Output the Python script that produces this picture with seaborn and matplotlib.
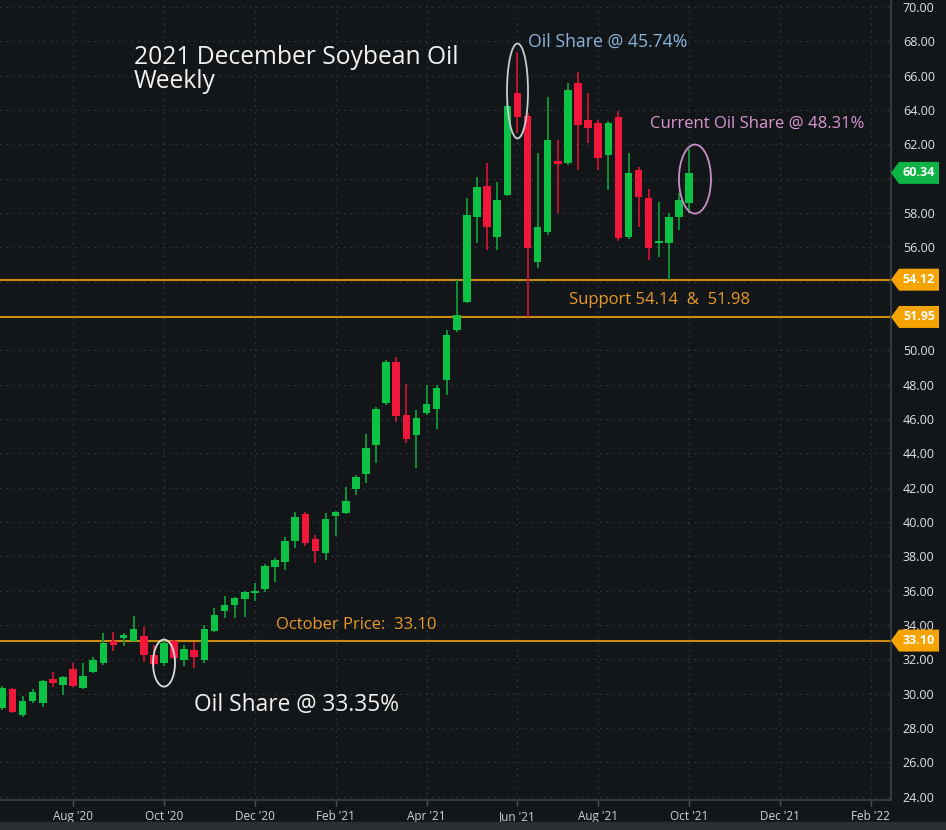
import numpy as np
import pandas as pd
import seaborn as sns
import matplotlib.pyplot as plt
from matplotlib.patches import Ellipse, Polygon, Rectangle
from matplotlib.transforms import blended_transform_factory

# weekly bars, first bar week of 2020-06-15
first_week = "2020-06-15"
axis_end = "2022-02-28"

opens = [29.17, 30.28, 28.77, 29.58, 29.47, 30.86, 30.51, 31.45, 30.34, 31.27,
         31.79, 33.08, 33.25, 33.08, 33.37, 32.26, 31.79, 33.08, 31.97, 32.56,
         31.97, 33.66, 34.82, 35.17, 35.52, 35.87, 36.10, 37.39, 37.68, 38.90,
         40.47, 39.02, 38.20, 40.36, 40.53, 41.93, 42.80, 44.49, 46.94, 49.32,
         46.24, 45.07, 46.35, 46.59, 48.28, 51.19, 52.82, 57.77, 59.58, 56.61,
         59.05, 64.99, 63.65, 55.15, 56.90, 61.03, 60.91, 65.57, 63.42, 63.24,
         61.38, 63.59, 56.61, 60.51, 58.88, 56.26, 56.26, 57.77, 58.59]
highs = [30.45, 30.34, 29.87, 30.28, 30.80, 31.27, 31.04, 31.79, 31.79, 32.14,
         33.54, 33.60, 33.54, 34.53, 33.89, 32.84, 33.14, 33.14, 32.84, 33.02,
         34.01, 35.00, 35.70, 35.64, 35.99, 36.45, 37.56, 37.91, 39.13, 40.59,
         40.59, 39.25, 40.53, 40.65, 42.04, 42.74, 45.13, 46.70, 49.44, 49.62,
         48.04, 46.53, 47.99, 47.99, 51.19, 54.10, 58.88, 60.10, 60.91, 59.81,
         64.29, 67.38, 63.83, 61.50, 64.76, 62.25, 65.57, 66.21, 64.99, 63.42,
         63.36, 63.94, 61.50, 60.68, 59.40, 58.64, 58.00, 59.17, 61.73]
lows = [29.06, 28.88, 28.65, 29.47, 29.23, 30.40, 29.93, 30.40, 30.28, 31.21,
        31.68, 32.49, 32.79, 33.02, 31.85, 31.62, 31.62, 32.03, 31.62, 31.50,
        31.79, 33.60, 34.42, 34.42, 34.47, 35.41, 35.93, 36.51, 37.21, 38.49,
        38.61, 37.62, 37.79, 39.19, 40.47, 41.58, 42.28, 43.44, 46.82, 45.83,
        44.61, 43.15, 46.24, 45.42, 47.40, 51.07, 52.76, 56.26, 55.85, 55.85,
        58.99, 62.66, 51.95, 54.80, 56.70, 58.00, 60.80, 60.51, 62.08, 60.51,
        59.34, 56.37, 56.50, 57.19, 55.27, 55.44, 54.10, 57.01, 58.00]
closes = [30.34, 28.94, 29.58, 30.11, 30.75, 30.63, 30.98, 30.45, 31.04, 31.97,
          32.96, 32.84, 33.43, 33.78, 32.26, 31.74, 32.96, 32.08, 32.61, 32.14,
          33.78, 34.59, 35.17, 35.58, 35.93, 35.93, 37.44, 37.79, 38.90, 40.30,
          38.78, 38.32, 40.18, 40.59, 41.23, 42.63, 44.32, 46.59, 49.32, 46.18,
          44.84, 46.06, 46.88, 47.81, 50.90, 52.06, 57.89, 59.52, 57.19, 58.76,
          64.23, 63.59, 55.96, 57.19, 62.25, 60.86, 65.17, 63.13, 62.95, 61.21,
          63.24, 56.55, 60.33, 58.93, 55.96, 56.31, 57.77, 58.76, 60.34]

price_ticks = [24, 26, 28, 30, 32, 34, 36, 38, 40, 42, 44, 46, 48,
               50, 52, 54, 56, 58, 60, 62, 64, 66, 68, 70]
hidden_ticks = [52, 54, 60]
support_levels = [54.12, 51.95]
october_price = 33.10
last_price = 60.34

BG = "#131619"
UP, DOWN = "#0cc245", "#f0173a"
UP_WICK, DOWN_WICK = "#0f9a3a", "#c81532"
ORANGE_LINE = "#c98a10"

sns.set_theme(style="dark", rc={
    "axes.facecolor": BG, "figure.facecolor": BG,
    "grid.color": "#3a4047", "grid.linestyle": (0, (1, 4)), "grid.linewidth": 0.9,
})
plt.rcParams["font.family"] = ["Open Sans", "DejaVu Sans"]

df = pd.DataFrame({"open": opens, "high": highs, "low": lows, "close": closes})
df["week"] = pd.date_range(first_week, periods=len(df), freq="W-MON")
df["i"] = np.arange(len(df))
df["up"] = df["close"] >= df["open"]

weeks = pd.date_range(first_week, axis_end, freq="W-MON")
tick_idx = [n for n, d in enumerate(weeks) if d.month % 2 == 0 and d.day <= 7]
tick_lab = [f"{weeks[n]:%b} '{weeks[n]:%y}" for n in tick_idx]

fig = plt.figure(figsize=(9.46, 8.30), dpi=100)
ax = fig.add_axes([0, 30 / 830, 891 / 946, 800 / 830])

# candles
ax.vlines(df["i"], df["low"], df["high"],
          colors=np.where(df["up"], UP_WICK, DOWN_WICK), lw=1.3, zorder=3)
body = np.maximum((df["close"] - df["open"]).abs(), 0.12)
ax.bar(df["i"], body, bottom=np.minimum(df["open"], df["close"]), width=0.75,
       color=np.where(df["up"], UP, DOWN), zorder=4, linewidth=0)

for lvl in support_levels + [october_price]:
    ax.axhline(lvl, color=ORANGE_LINE, lw=1.5, zorder=2)

ax.set_xlim(-0.23, 87.99)
ax.set_ylim(23.815, 70.41)
ax.set_xticks(tick_idx)
ax.set_xticklabels(tick_lab)
ax.set_yticks(price_ticks)
ax.set_yticklabels(["" if t in hidden_ticks else f"{t:.2f}" for t in price_ticks])
ax.yaxis.tick_right()
ax.grid(True)
ax.tick_params(axis="y", length=0, pad=8.5, labelcolor="#e0e2e4", labelsize=9)
ax.tick_params(axis="x", length=4, width=1, color="#4b5560", pad=3,
               labelcolor="#d0d3d6", labelsize=8.5, bottom=True)
for side in ["left", "top"]:
    ax.spines[side].set_visible(False)
for side in ["right", "bottom"]:
    ax.spines[side].set_color("#3a424c")
    ax.spines[side].set_linewidth(1.2)

# ovals
ax.add_patch(Ellipse((16.01, 31.79), 2.18, 2.74, fill=False, ec="#d8dcdf", lw=1.3, zorder=5))
ax.add_patch(Ellipse((51.01, 65.11), 2.08, 5.53, fill=False, ec="#c5ccd3", lw=1.3, zorder=5))
ax.add_patch(Ellipse((68.58, 59.98), 3.17, 4.02, fill=False, ec="#c78fc4", lw=1.3, zorder=5))


def px(x, y):
    return x / 891, (800 - y) / 800


def note(x, y, s, color, size):
    ax.text(*px(x, y), s, transform=ax.transAxes, color=color, fontsize=size,
            ha="left", va="baseline", zorder=6)


note(134, 64, "2021 December Soybean Oil", "#f2f2f2", 17.7)
note(134, 88, "Weekly", "#f2f2f2", 17.7)
note(194, 711, "Oil Share @ 33.35%", "#f2f2f2", 16.4)
note(528, 47, "Oil Share @ 45.74%", "#8ab4dc", 12.7)
note(650, 128, "Current Oil Share @ 48.31%", "#d898d0", 12)
note(569, 304, "Support 54.14  &  51.98", "#e89a2c", 12)
note(276, 629, "October Price:  33.10", "#e89a2c", 12)

# price tags on the right scale
tr = blended_transform_factory(ax.transAxes, ax.transData)
tip, wid, half = 8 / 891, 48 / 891, 0.64
for val, fc in [(last_price, "#0db345"), (support_levels[0], "#f5a300"),
                (support_levels[1], "#f5a300"), (october_price, "#f5a300")]:
    ax.add_patch(Polygon([(1, val), (1 + tip, val + half), (1 + wid, val + half),
                          (1 + wid, val - half), (1 + tip, val - half)],
                         closed=True, transform=tr, clip_on=False, fc=fc, ec="none", zorder=7))
    ax.text(1 + (tip + wid) / 2, val, f"{val:.2f}", transform=tr, ha="center", va="center",
            color="white", fontsize=9, fontweight="bold", clip_on=False, zorder=8)

fig.patches.append(Rectangle((0, 0), 1, 8 / 830, transform=fig.transFigure,
                             color="#2b2f34", zorder=0))

fig.savefig("out.png", dpi=100, facecolor=fig.get_facecolor())
